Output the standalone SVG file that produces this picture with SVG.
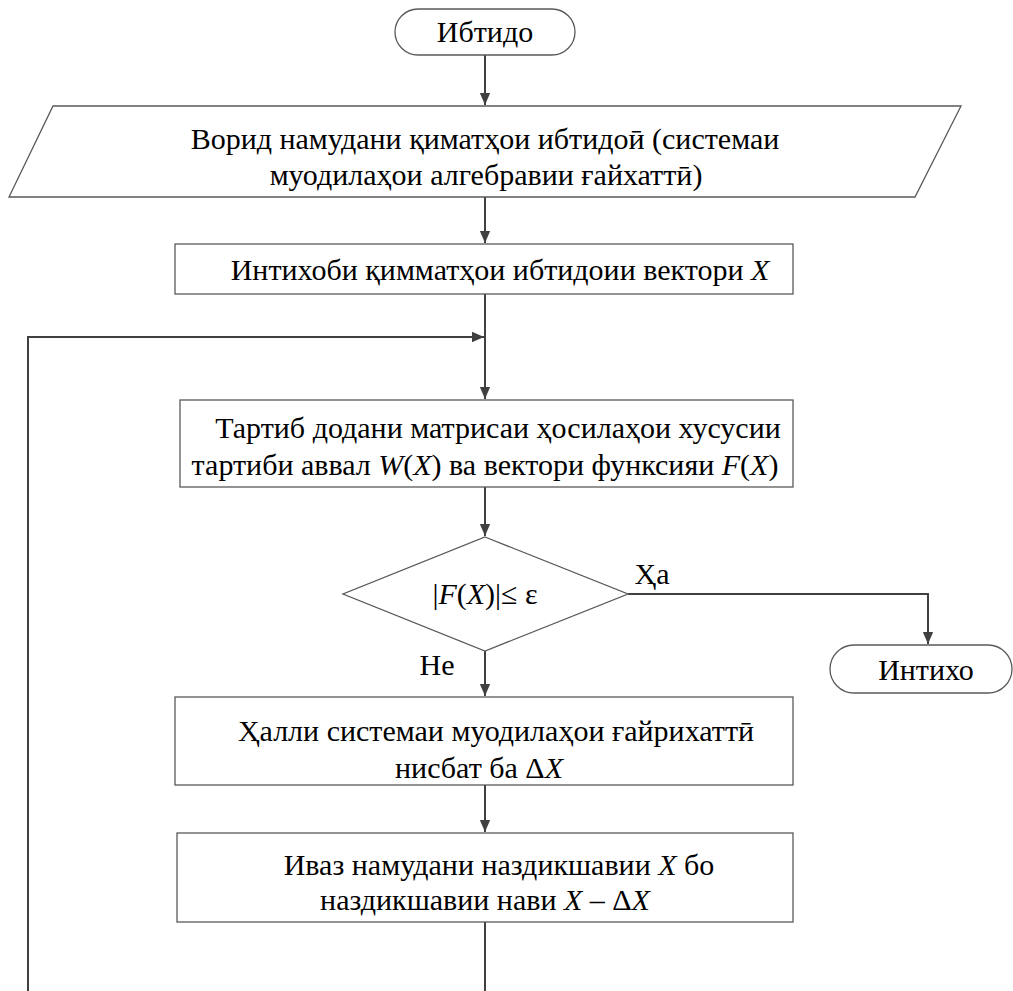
<svg xmlns="http://www.w3.org/2000/svg" width="1013" height="991" viewBox="0 0 1013 991">
<defs>
<marker id="ah" markerWidth="12" markerHeight="14" viewBox="0 0 14 12" refX="14" refY="6" orient="auto" markerUnits="userSpaceOnUse">
<path d="M0,0 L14,6 L0,12 z" fill="#404040"/>
</marker>
<style>
.shape{fill:#fff;stroke:#595959;stroke-width:1.3}
.conn{fill:none;stroke:#404040;stroke-width:2}
.t{font-family:"Liberation Serif","Times New Roman","DejaVu Serif",serif;font-size:30px;fill:#000;text-anchor:middle}
.i{font-style:italic}
</style>
</defs>
<rect width="1013" height="991" fill="#fff"/>
<g id="connectors">
<line class="conn" x1="485" y1="55" x2="485" y2="105" marker-end="url(#ah)"/>
<line class="conn" x1="485" y1="197" x2="485" y2="243" marker-end="url(#ah)"/>
<line class="conn" x1="485" y1="294" x2="485" y2="399" marker-end="url(#ah)"/>
<polyline class="conn" points="28,991 28,337 484,337" marker-end="url(#ah)"/>
<line class="conn" x1="485" y1="487" x2="485" y2="536" marker-end="url(#ah)"/>
<polyline class="conn" points="628,594 928,594 928,644" marker-end="url(#ah)"/>
<line class="conn" x1="485" y1="651" x2="485" y2="696" marker-end="url(#ah)"/>
<line class="conn" x1="485" y1="785" x2="485" y2="832" marker-end="url(#ah)"/>
<line class="conn" x1="485" y1="922" x2="485" y2="991"/>
</g>
<g id="start">
<rect class="shape" x="395" y="9" width="180" height="46" rx="23"/>
<text class="t" x="485" y="42">Ибтидо</text>
</g>
<g id="input">
<polygon class="shape" points="53,106 961,106 915,197 9,197"/>
<text class="t" x="485" y="149">Ворид намудани қиматҳои ибтидоӣ (системаи</text>
<text class="t" x="486" y="185">муодилаҳои алгебравии ғайхаттӣ)</text>
</g>
<g id="init">
<rect class="shape" x="175" y="244" width="618" height="50"/>
<text class="t" x="500" y="280">Интихоби қимматҳои ибтидоии вектори <tspan class="i">X</tspan></text>
</g>
<g id="compute">
<rect class="shape" x="180" y="400" width="613" height="87"/>
<text class="t" x="498" y="438">Тартиб додани матрисаи ҳосилаҳои хусусии</text>
<text class="t" x="485" y="475">тартиби аввал <tspan class="i">W</tspan>(<tspan class="i">X</tspan>) ва вектори функсияи <tspan class="i">F</tspan>(<tspan class="i">X</tspan>)</text>
</g>
<g id="decision">
<polygon class="shape" points="485,537 628,594 485,651 343,594"/>
<text class="t" x="485" y="604">|<tspan class="i">F</tspan>(<tspan class="i">X</tspan>)|≤ ε</text>
<text class="t" x="652" y="584">Ҳа</text>
<text class="t" x="437" y="675">Не</text>
</g>
<g id="end">
<rect class="shape" x="830" y="645" width="182" height="48" rx="24"/>
<text class="t" x="926" y="680">Интихо</text>
</g>
<g id="solve">
<rect class="shape" x="175" y="697" width="618" height="88"/>
<text class="t" x="496" y="741">Ҳалли системаи муодилаҳои ғайрихаттӣ</text>
<text class="t" x="479" y="778">нисбат ба Δ<tspan class="i">X</tspan></text>
</g>
<g id="update">
<rect class="shape" x="177" y="833" width="616" height="89"/>
<text class="t" x="499" y="875">Иваз намудани наздикшавии <tspan class="i">X</tspan> бо</text>
<text class="t" x="485" y="910">наздикшавии нави <tspan class="i">X</tspan> – Δ<tspan class="i">X</tspan></text>
</g>
</svg>
